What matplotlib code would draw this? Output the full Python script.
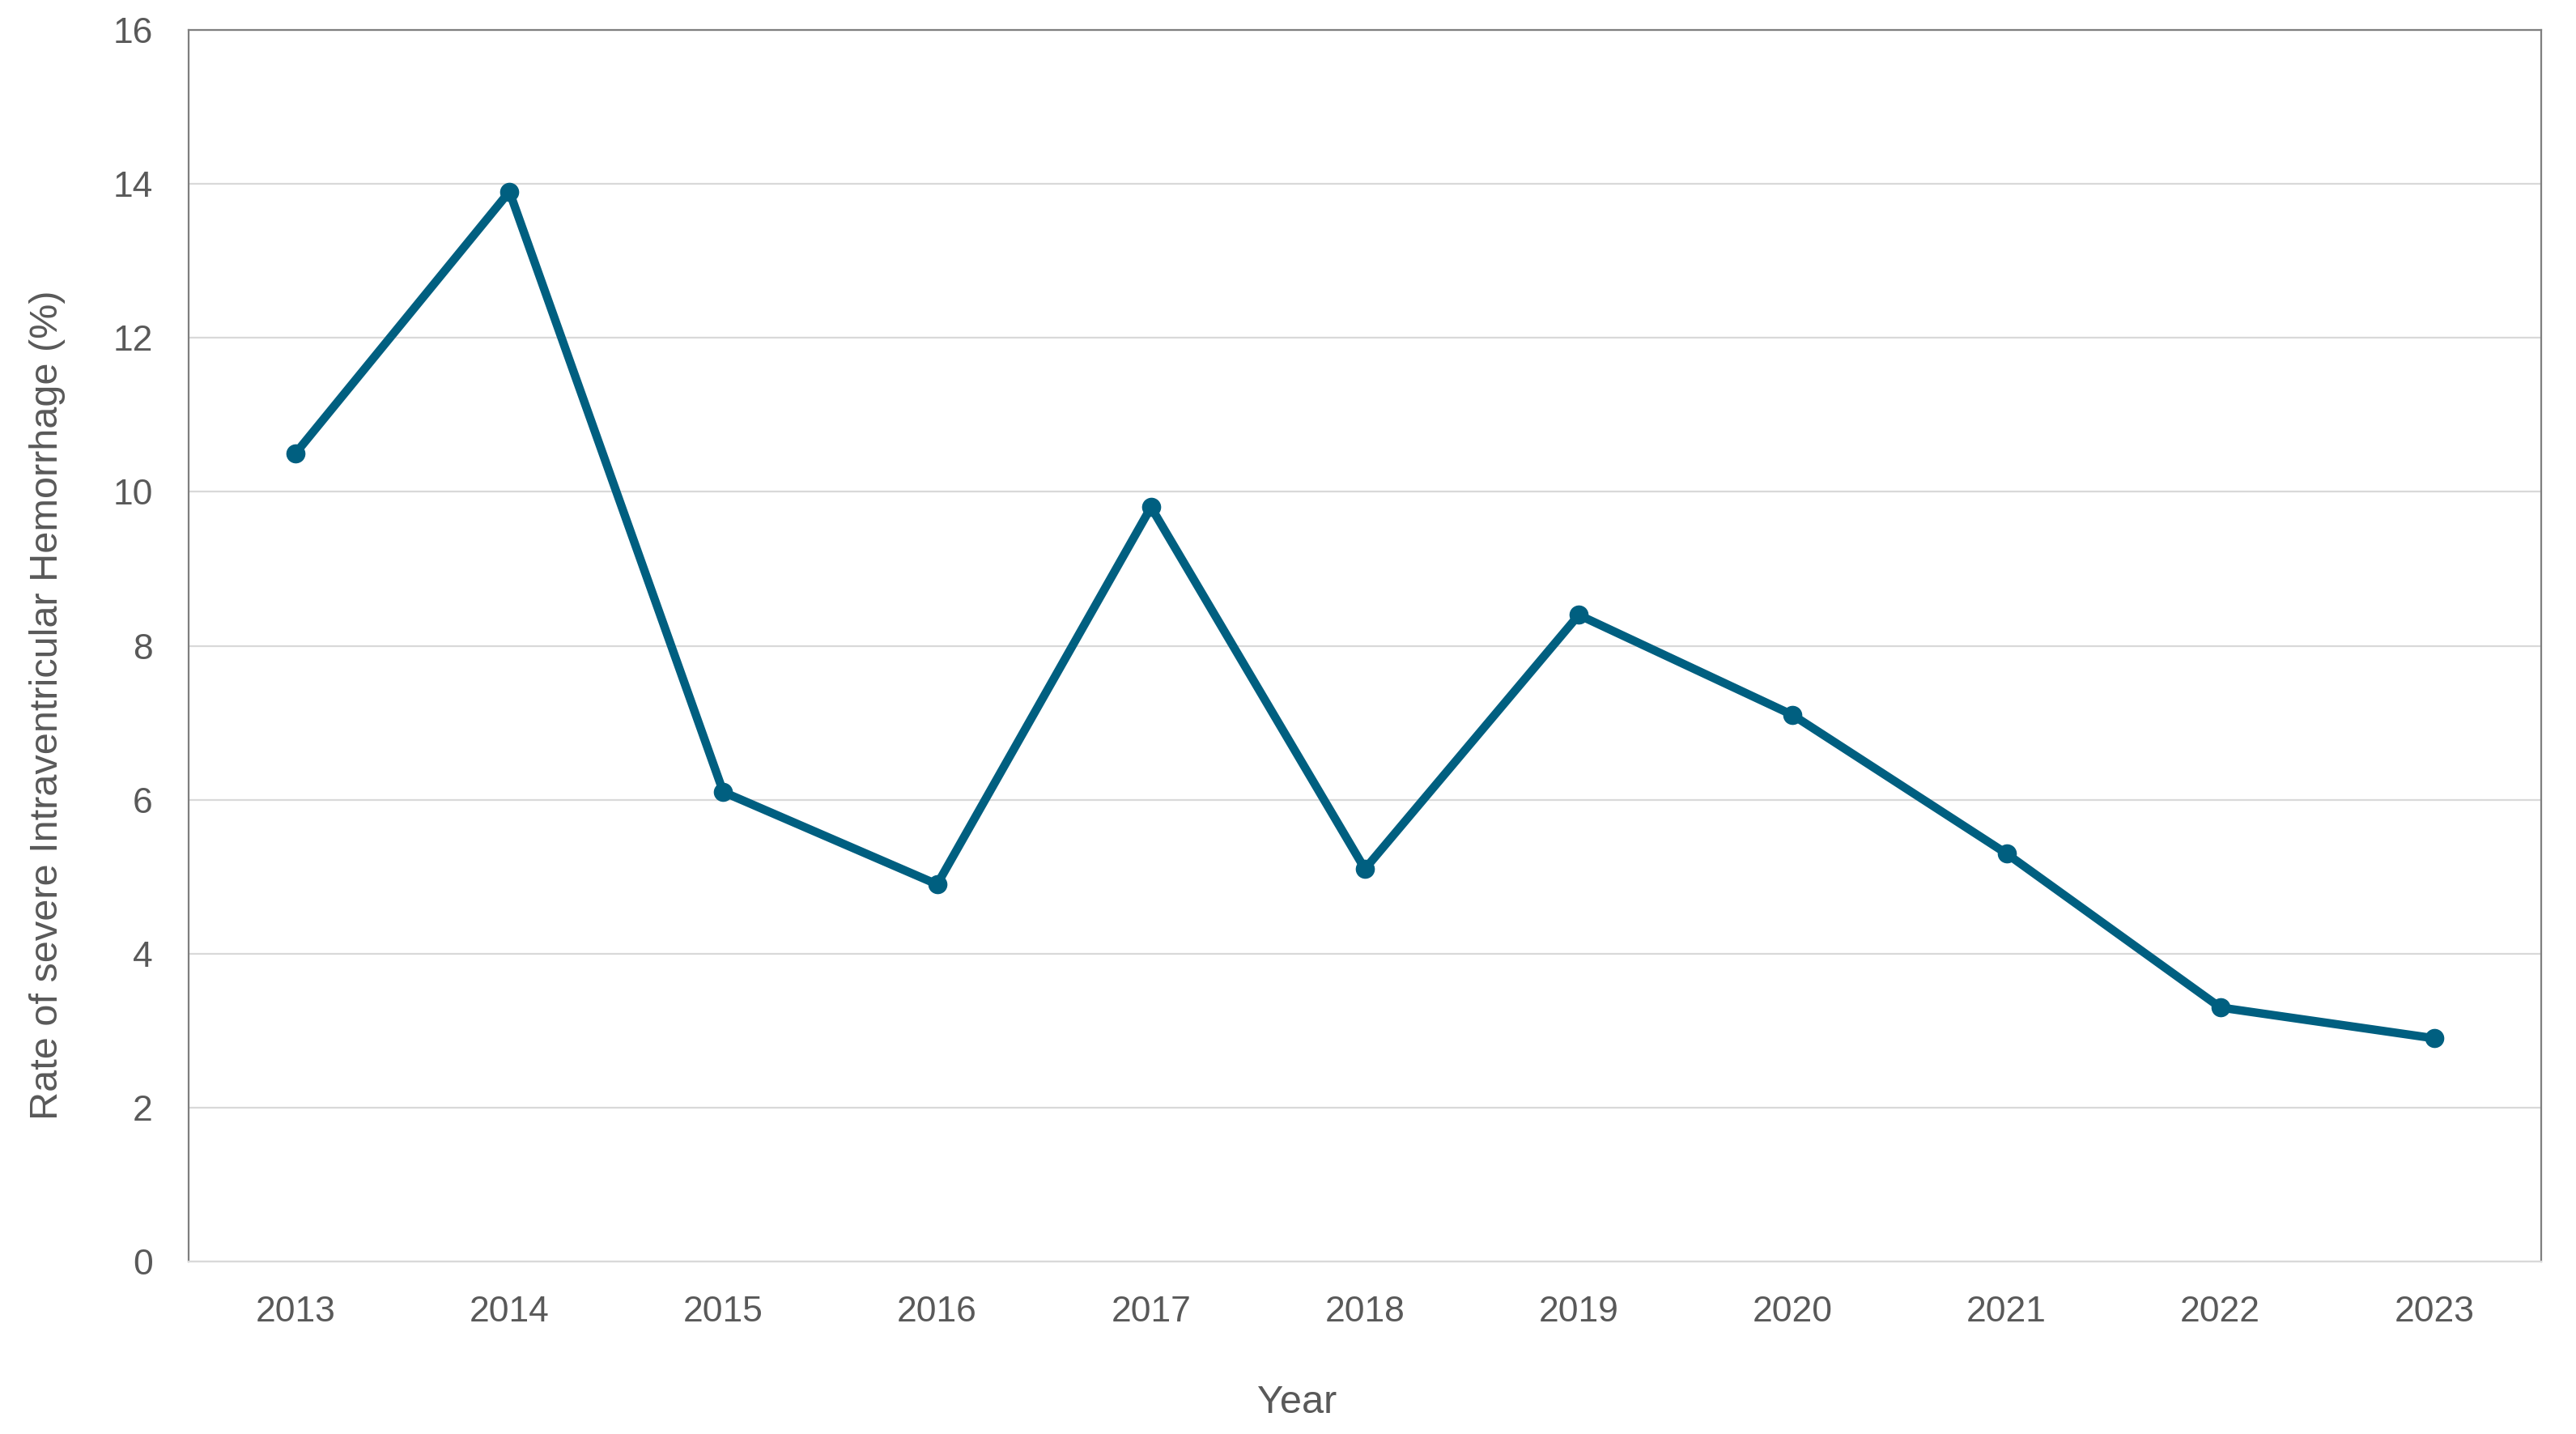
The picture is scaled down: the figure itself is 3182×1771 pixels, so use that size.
import matplotlib.pyplot as plt

plt.rcParams['font.family'] = ['Liberation Sans', 'DejaVu Sans']

# data
years = ['2013', '2014', '2015', '2016', '2017', '2018', '2019', '2020', '2021', '2022', '2023']
ivh_rate = [10.5, 13.9, 6.1, 4.9, 9.8, 5.1, 8.4, 7.1, 5.3, 3.3, 2.9]
yticks = [0, 2, 4, 6, 8, 10, 12, 14, 16]

line_col = '#005f80'
text_col = '#595959'
grid_col = '#d9d9d9'

fig = plt.figure(figsize=(31.82, 17.71), dpi=100)
ax = fig.add_axes([233/3182, 1 - 1558/1771, (3139-233)/3182, (1558-37)/1771])

x = list(range(len(years)))
ax.plot(x, ivh_rate, color=line_col, linewidth=7.5, marker='o', markersize=16,
        solid_joinstyle='round', zorder=3)

ax.set_xlim(-0.5, len(years) - 0.5)
ax.set_ylim(0, 16)
ax.set_xticks(x)
ax.set_xticklabels(years)
ax.set_yticks(yticks)
ax.grid(axis='y', color=grid_col, linewidth=1.6)
ax.set_axisbelow(True)

for side in ['top', 'left', 'right']:
    ax.spines[side].set_color('#7f7f7f')
    ax.spines[side].set_linewidth(1.6)
ax.spines['bottom'].set_color(grid_col)
ax.spines['bottom'].set_linewidth(1.6)

ax.tick_params(axis='both', length=0, labelsize=32, labelcolor=text_col)
ax.tick_params(axis='x', pad=30)
ax.tick_params(axis='y', pad=32)

ax.set_xlabel('Year', fontsize=35, color=text_col)
ax.xaxis.set_label_coords(0.471, -0.100)
ax.set_ylabel('Rate of severe Intraventricular Hemorrhage (%)', fontsize=35,
              color=text_col)
ax.yaxis.set_label_coords(-0.0523, 0.4517)

fig.savefig('out.png', dpi=100)
